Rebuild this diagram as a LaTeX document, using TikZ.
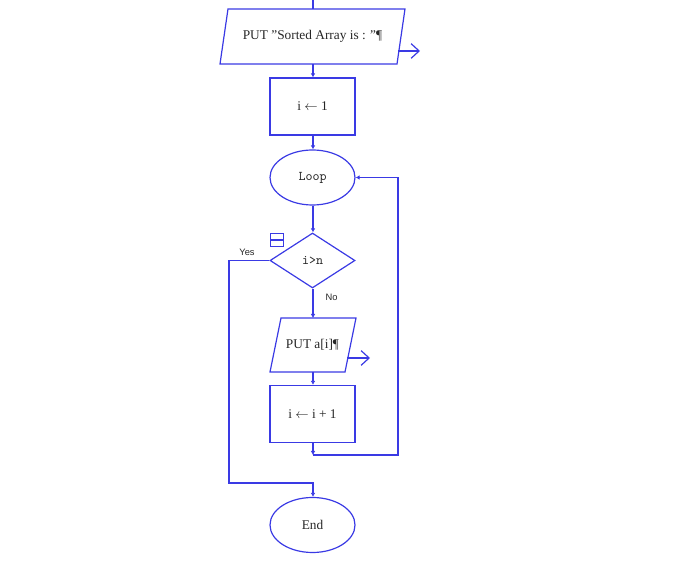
\documentclass[tikz,border=0pt]{standalone}
\usepackage{fontspec}
\setmainfont{Liberation Serif}
\setsansfont{Liberation Sans}
\usetikzlibrary{shapes.geometric,arrows.meta}
\definecolor{flow}{RGB}{58,58,228}
\begin{document}
\begin{tikzpicture}[x=0.75pt,y=-0.75pt,
  every node/.style={font=\fontsize{10}{12}\selectfont, text=black!85},
  line/.style={draw=flow, line width=0.9pt},
  flowarrow/.style={line, -{Latex[length=3pt,width=3.5pt]}},
  outarrow/.style={line, -{Straight Barb[length=6pt,width=11pt,line width=0.9pt]}},
  procbox/.style={line, rectangle, minimum width=63.75pt, minimum height=42.75pt, inner sep=0pt},
  termbox/.style={line, ellipse, minimum width=63.75pt, minimum height=41.25pt, inner sep=0pt},
  decbox/.style={line, diamond, minimum width=63.75pt, minimum height=41.25pt, inner sep=0pt},
  iobody/.style={rectangle, minimum height=41.25pt, inner sep=0pt},
  lbl/.style={font=\sffamily\fontsize{7}{8}\selectfont}
]
\useasboundingbox (0,0) rectangle (683,573);

% output: heading text
\node[iobody, minimum width=132.75pt] (put1) at (312.5,36.5) {PUT \symbol{34}Sorted Array is : \symbol{34}¶};
\draw[line] (228,9) -- (405,9) -- (397,64) -- (220,64) -- cycle;
\coordinate (top) at (313,0);
\coordinate (put1out) at (398,51);
\coordinate (put1end) at (420,51);

% assignment i <- 1
\node[procbox] (init) at (312.5,106.5) {i $\leftarrow$ 1};

% loop head
\node[termbox] (loop) at (312.5,177.5) {\ttfamily Loop};

% test
\node[decbox] (test) at (312.5,260.5) {\ttfamily i>n};
\draw[line, line width=0.8pt] (270.5,233.5) rectangle (283.5,246.5);
\draw[line, line width=0.8pt] (270.5,240) -- (283.5,240);
\node[lbl, anchor=south] at (247,260) {Yes};
\node[lbl, anchor=north west] at (321,289) {No};

% output a[i]
\node[iobody, minimum width=56pt] (put2) at (312.5,345) {PUT a[i]¶};
\draw[line] (281,318) -- (356,318) -- (345,372) -- (270,372) -- cycle;
\coordinate (put2out) at (347,358);
\coordinate (put2end) at (370,358);

% increment
\node[procbox] (inc) at (312.5,414) {i $\leftarrow$ i + 1};

% end
\node[termbox] (end) at (312.5,525) {End};

% bends
\coordinate (back) at (313,455);
\coordinate (backR) at (398,455);
\coordinate (backT) at (398,177.5);
\coordinate (yesL) at (229,260.5);
\coordinate (yesB) at (229,483);
\coordinate (yesR) at (313,483);

% connectors
\draw[line] (top) -- (313,9);
\draw[outarrow] (put1out) -- (put1end);
\draw[flowarrow] (313,64) -- (init.north -| 313,0);
\draw[flowarrow] (init.south -| 313,0) -- (loop.north -| 313,0);
\draw[flowarrow] (loop.south -| 313,0) -- (test.north -| 313,0);
\draw[flowarrow] (test.south -| 313,0) -- (313,318);
\draw[outarrow] (put2out) -- (put2end);
\draw[flowarrow] (313,372) -- (inc.north -| 313,0);
\draw[flowarrow] (inc.south -| 313,0) -- (back);
\draw[flowarrow] (back) -- (backR) -- (backT) -- (loop.east);
\draw[flowarrow] (test.west) -- (yesL) -- (yesB) -- (yesR) -- (end.north -| 313,0);
\end{tikzpicture}
\end{document}
